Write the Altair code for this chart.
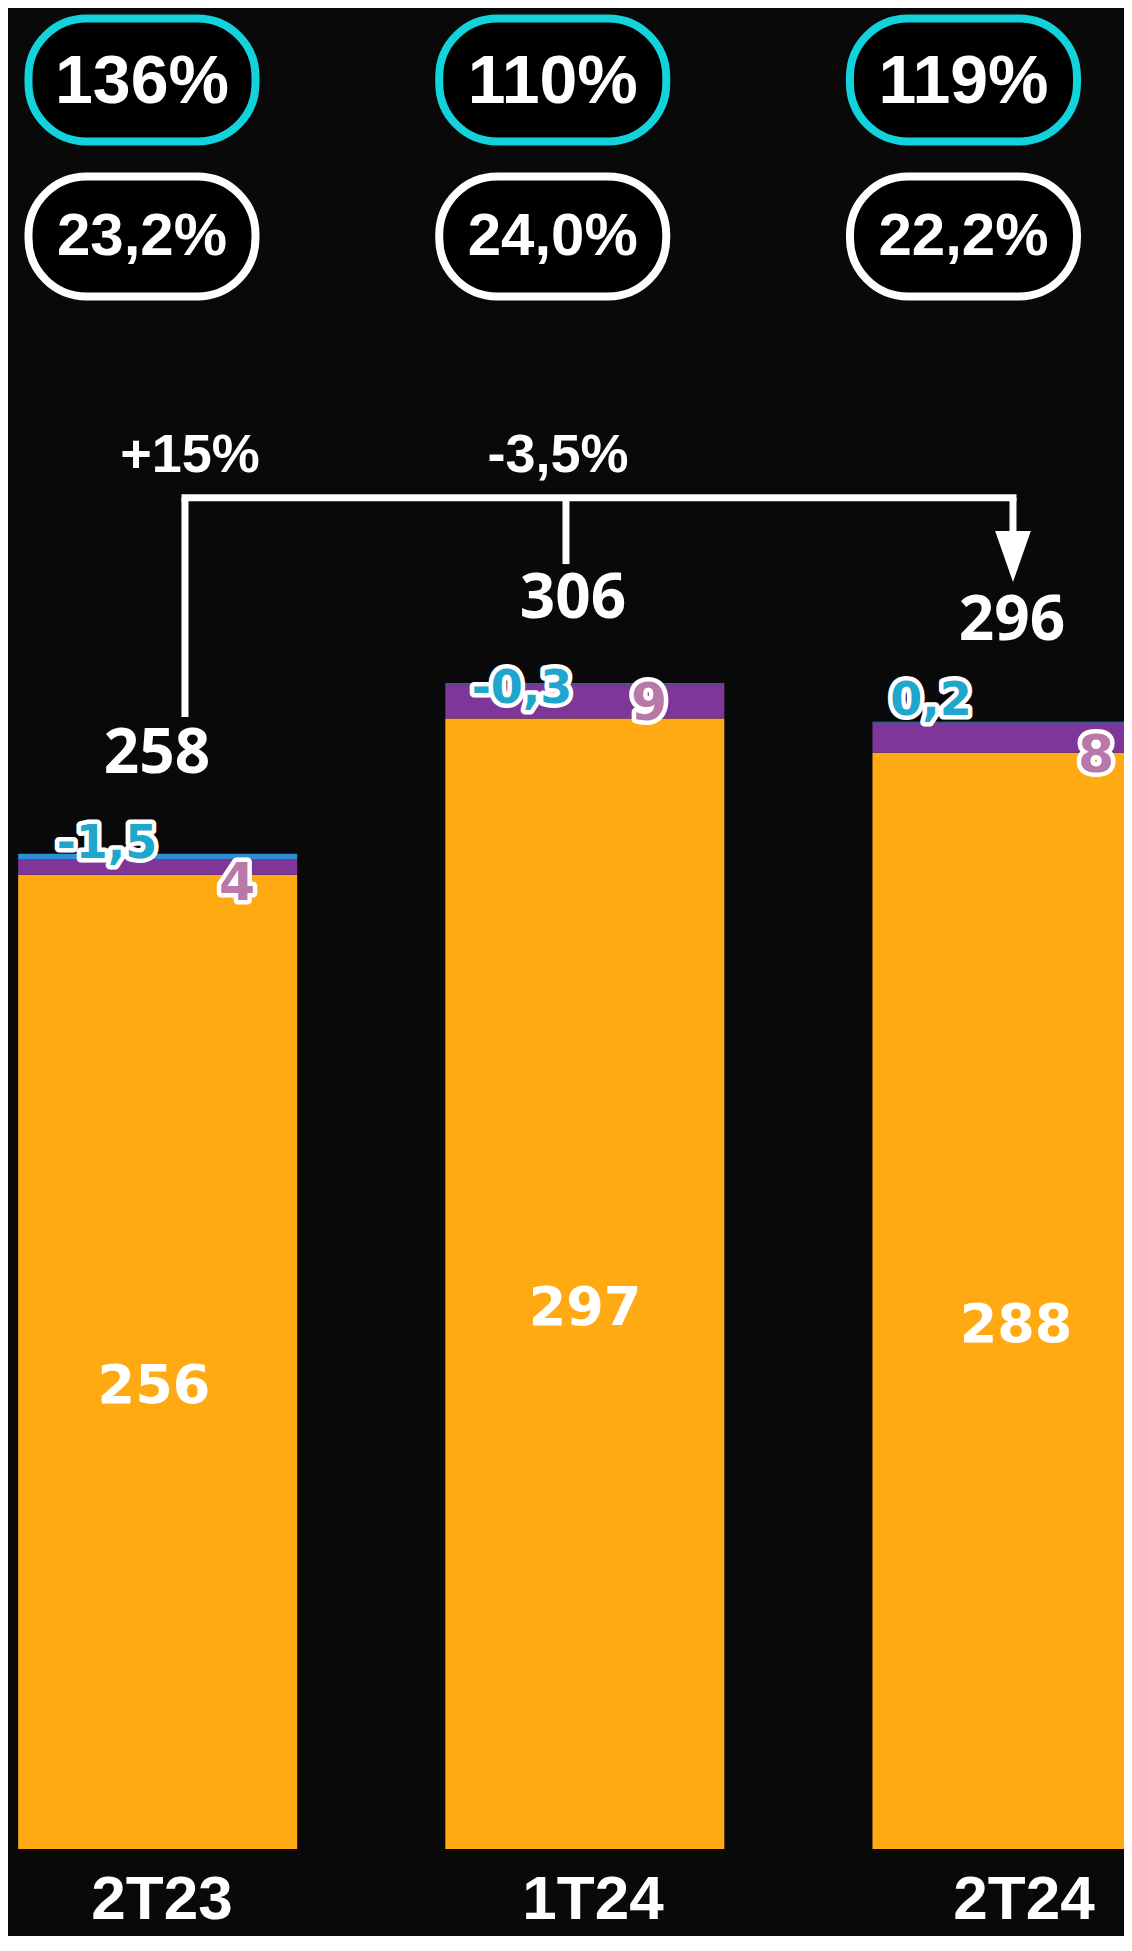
import altair as alt
import pandas as pd

# ---- data ----
periods = ["2T23", "1T24", "2T24"]
core_vals = [256, 297, 288]          # orange segment
purple_vals = [4, 9, 8]              # purple segment
blue_vals = [-1.5, -0.3, 0.2]        # thin blue segment
totals = [258, 306, 296]
ratio_top = ["136%", "110%", "119%"]
ratio_bottom = ["23,2%", "24,0%", "22,2%"]
growth_labels = ["+15%", "-3,5%"]

# ---- styling ----
ORANGE = "#FFAA12"
PURPLE = "#7E3798"
BLUE = "#2E8FD6"
CYAN_TXT = "#1EA6CC"
MAUVE_TXT = "#B878A8"
CYAN_PILL = "#12D3DC"
BG = "#090909"
W, H = 1116, 1928
SANS = "Liberation Sans"
OPEN = "Open Sans"
VERD = "DejaVu Sans"

# label nudges (pixels) per bar, for annotation placement
blue_nudge = [(-47, 4), (-63, 20), (-85, -7)]
purple_nudge = [(83, 41), (64, 36), (80, 50)]
total_nudge = [(3, -81), (-12, -65), (-4, -82)]
leg_dx = [31, -19, -3]
leg_end_off = [39.4, 31.6, 43.6]     # data units above each total
growth_dx = [36, -27]
bracket_level = 355


def fmt(v):
    return str(v).replace(".", ",")


xs = alt.Scale(domain=[-0.3387, 2.2506], nice=False, zero=False)
xp = alt.Scale(domain=[-0.3262, 2.3908], nice=False, zero=False)
ys = alt.Scale(domain=[-22.86, 483.71], nice=False, zero=False)

base = pd.DataFrame({
    "idx": list(range(len(periods))),
    "period": periods,
    "core": core_vals,
    "purple": purple_vals,
    "blue": blue_vals,
    "total": totals,
    "rtop": ratio_top,
    "rbot": ratio_bottom,
})
base["core_mid"] = base["core"] / 2
base["purple_top"] = base["core"] + base["purple"]
base["bar_top"] = base["purple_top"] + base["blue"].abs()
base["core_lbl"] = base["core"].map(fmt)
base["purple_lbl"] = base["purple"].map(fmt)
base["blue_lbl"] = base["blue"].map(fmt)
base["total_lbl"] = base["total"].map(fmt)
base["pl"] = base["idx"] - 0.2763
base["pr"] = base["idx"] + 0.2763
base["top"] = bracket_level
base["leg_end"] = base["total"] + pd.Series(leg_end_off)

seg_rows = []
for i, p in enumerate(periods):
    c, pu, b = core_vals[i], purple_vals[i], abs(blue_vals[i])
    seg_rows.append({"idx": i, "series": "core", "y0": 0, "y1": c})
    seg_rows.append({"idx": i, "series": "purple", "y0": c, "y1": c + pu})
    seg_rows.append({"idx": i, "series": "blue", "y0": c + pu, "y1": c + pu + b})
seg = pd.DataFrame(seg_rows)


def X(f="idx"):
    return alt.X(f"{f}:Q", scale=xs, axis=None)


def XP(f="idx"):
    return alt.X(f"{f}:Q", scale=xp, axis=None)


def Y(f):
    return alt.Y(f"{f}:Q", scale=ys, axis=None)


B = alt.Chart(base)


def row(i):
    return B.transform_filter(alt.datum.idx == i)


bars = alt.Chart(seg).mark_bar(size=279, clip=True).encode(
    x=X(), y=Y("y0"), y2="y1:Q",
    color=alt.Color("series:N", legend=None,
                    scale=alt.Scale(domain=["core", "purple", "blue"],
                                    range=[ORANGE, PURPLE, BLUE])),
)

core_txt = B.mark_text(font=VERD, fontWeight="bold", fontSize=54, color="white",
                       baseline="alphabetic", dy=41).encode(
    x=X(), y=Y("core_mid"), text="core_lbl:N")

layers_lbl = []
for i in range(len(periods)):
    for field, yfield, color, (dx, dy), size in [
        ("blue_lbl", "bar_top", CYAN_TXT, blue_nudge[i], 46),
        ("purple_lbl", "purple_top", MAUVE_TXT, purple_nudge[i], 52),
    ]:
        kw = dict(font=VERD, fontWeight="bold", fontSize=size, baseline="alphabetic",
                  dx=dx, dy=dy)
        layers_lbl.append(row(i).mark_text(stroke="white", strokeWidth=9, strokeJoin="round",
                                           fill="white", **kw).encode(
            x=X(), y=Y(yfield), text=f"{field}:N"))
        layers_lbl.append(row(i).mark_text(fill=color, **kw).encode(
            x=X(), y=Y(yfield), text=f"{field}:N"))

total_layers = [
    row(i).mark_text(font=OPEN, fontWeight="bold", fontSize=62, color="white",
                     baseline="alphabetic", dx=total_nudge[i][0], dy=total_nudge[i][1]).encode(
        x=X(), y=Y("bar_top"), text="total_lbl:N")
    for i in range(len(periods))
]

# ---- bracket ----
leg_layers = [
    row(i).mark_rule(color="white", strokeWidth=7, xOffset=leg_dx[i], x2Offset=leg_dx[i]).encode(
        x=X(), y=Y("top"), y2="leg_end:Q")
    for i in range(len(periods))
]
hbar = pd.DataFrame({"a": [0], "b": [len(periods) - 1], "lvl": [bracket_level]})
h_rule = alt.Chart(hbar).mark_rule(color="white", strokeWidth=7, strokeCap="square",
                                   xOffset=leg_dx[0], x2Offset=leg_dx[-1]).encode(
    x=X("a"), x2="b:Q", y=Y("lvl"))
arrow = row(len(periods) - 1).mark_point(
    shape="M -0.7 -1 L 0.7 -1 L 0 1 Z", size=2601, filled=True, color="white", opacity=1,
    xOffset=leg_dx[-1]).encode(x=X(), y=Y("leg_end"))

gdf = pd.DataFrame({"idx": [0, 1], "g": growth_labels})
growth_layers = [
    alt.Chart(gdf).transform_filter(alt.datum.idx == i).mark_text(
        font=SANS, fontWeight="bold", fontSize=54, color="white",
        baseline="alphabetic", dx=growth_dx[i]).encode(
        x=X(), y=alt.value(464), text="g:N")
    for i in range(len(growth_labels))
]

# ---- pills ----
pill_top = B.mark_rect(cornerRadius=58, fill="#000000", stroke=CYAN_PILL, strokeWidth=8).encode(
    x=XP("pl"), x2="pr:Q", y=alt.value(10.5), y2=alt.value(133.5))
pill_bot = B.mark_rect(cornerRadius=58, fill="#000000", stroke="white", strokeWidth=8).encode(
    x=XP("pl"), x2="pr:Q", y=alt.value(168.5), y2=alt.value(288.5))
pill_top_txt = B.mark_text(font=SANS, fontWeight="bold", fontSize=68, color="white",
                           baseline="alphabetic").encode(
    x=XP(), y=alt.value(95), text="rtop:N")
pill_bot_txt = B.mark_text(font=SANS, fontWeight="bold", fontSize=60, color="white",
                           baseline="alphabetic").encode(
    x=XP(), y=alt.value(247), text="rbot:N")

cat_txt = B.mark_text(font=SANS, fontWeight="bold", fontSize=62, color="white",
                      baseline="alphabetic", dx=8).encode(
    x=X(), y=alt.value(1911), text="period:N")

chart = alt.layer(
    pill_top, pill_bot, pill_top_txt, pill_bot_txt,
    bars, core_txt, *layers_lbl,
    h_rule, *leg_layers, arrow, *growth_layers, *total_layers, cat_txt,
).resolve_scale(x="independent").properties(
    width=W, height=H, padding=0,
    autosize=alt.AutoSizeParams(type="none"),
    background=BG,
).configure_view(strokeWidth=0)

chart.save("out.html", embed_options={"renderer": "svg", "actions": False})
